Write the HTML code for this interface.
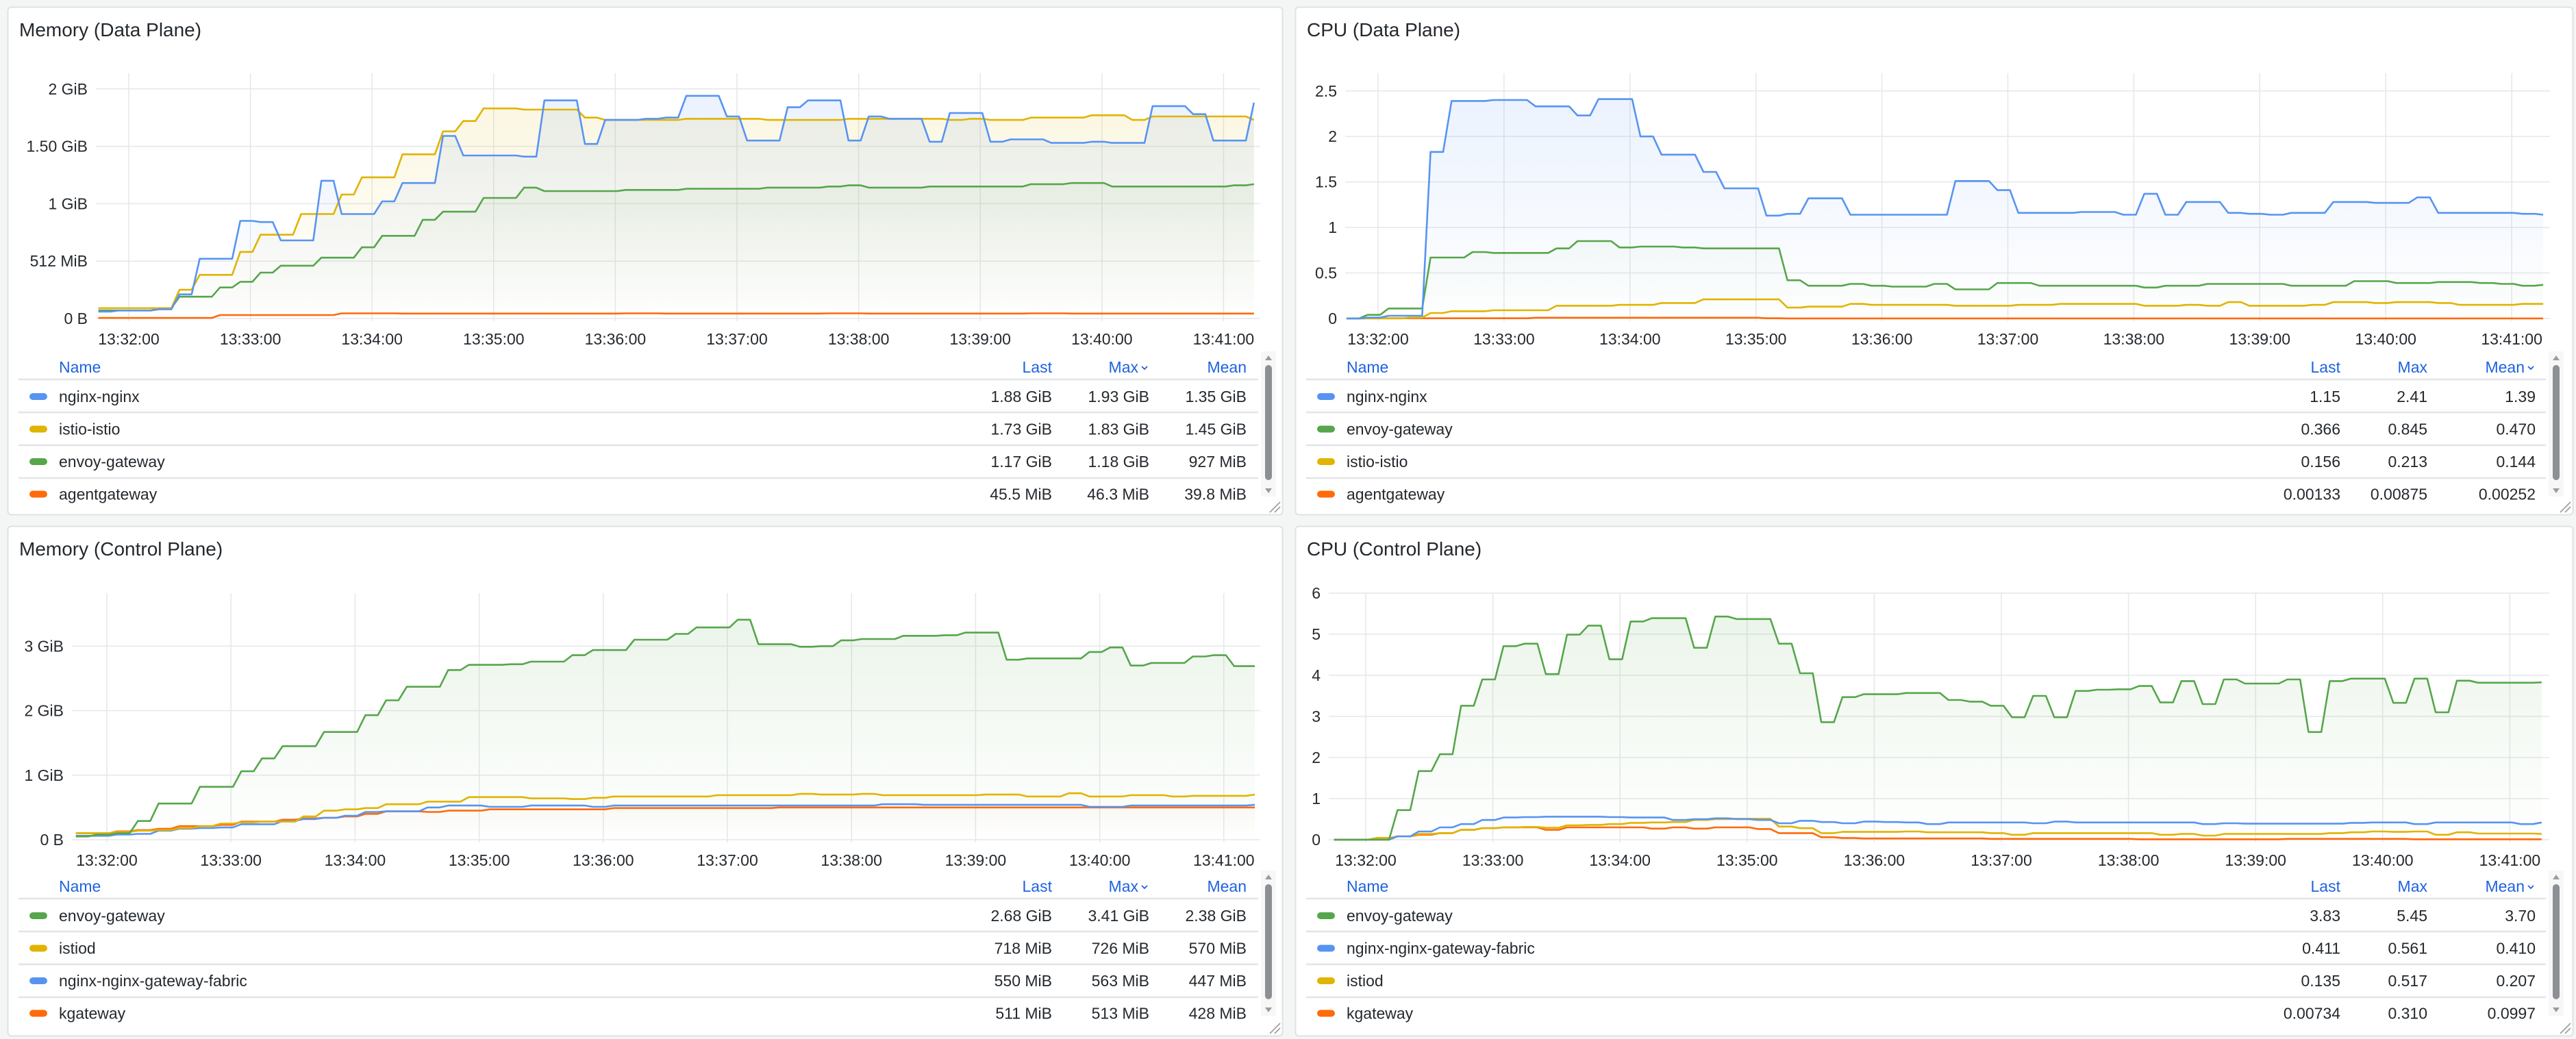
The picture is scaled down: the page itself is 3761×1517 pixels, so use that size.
<!DOCTYPE html>
<html><head><meta charset="utf-8">
<style>
html,body{margin:0;padding:0;background:#f4f5f5;}
svg{display:block;font-family:"Liberation Sans",sans-serif;}
</style></head>
<body>
<svg id="dash" width="3761" height="1517" viewBox="0 0 3761 1517" xmlns="http://www.w3.org/2000/svg">
<rect x="0" y="0" width="3761" height="1517" fill="#f4f5f5"/>
</svg>
<script>
// ---- shared x domain: samples every 10s starting 13:31:45 ----
const sampleStart = "13:31:45";
const sampleStepSec = 10;
const xTickLabels = ["13:32:00","13:33:00","13:34:00","13:35:00","13:36:00","13:37:00","13:38:00","13:39:00","13:40:00","13:41:00"];

// ---- Memory (Data Plane), GiB ----
const memDpNginx = [0.06,0.07,0.07,0.08,0.21,0.52,0.52,0.85,0.84,0.68,0.68,1.2,0.91,0.91,1.02,1.18,1.18,1.59,1.42,1.42,1.42,1.41,1.90,1.90,1.52,1.73,1.73,1.74,1.75,1.94,1.94,1.76,1.55,1.55,1.84,1.90,1.90,1.55,1.76,1.74,1.74,1.54,1.79,1.79,1.54,1.56,1.56,1.53,1.53,1.54,1.53,1.53,1.85,1.85,1.78,1.55,1.55,1.88];
const memDpIstio = [0.09,0.09,0.09,0.09,0.25,0.38,0.38,0.58,0.73,0.73,0.91,0.91,1.08,1.23,1.23,1.43,1.43,1.63,1.72,1.83,1.83,1.82,1.82,1.82,1.75,1.73,1.73,1.73,1.73,1.74,1.74,1.74,1.74,1.73,1.73,1.73,1.73,1.74,1.74,1.74,1.74,1.74,1.73,1.74,1.73,1.73,1.75,1.75,1.75,1.77,1.77,1.73,1.76,1.76,1.76,1.76,1.76,1.73];
const memDpEnvoy = [0.07,0.07,0.07,0.09,0.19,0.19,0.27,0.32,0.40,0.46,0.46,0.53,0.53,0.62,0.72,0.72,0.86,0.93,0.93,1.05,1.05,1.14,1.11,1.11,1.11,1.11,1.12,1.12,1.12,1.13,1.13,1.13,1.13,1.14,1.14,1.14,1.15,1.16,1.14,1.14,1.14,1.15,1.15,1.15,1.15,1.15,1.17,1.17,1.18,1.18,1.15,1.15,1.15,1.15,1.15,1.15,1.16,1.17];
const memDpAgent = [0.005,0.005,0.005,0.005,0.005,0.005,0.03,0.03,0.03,0.03,0.03,0.03,0.045,0.045,0.045,0.043,0.043,0.043,0.043,0.043,0.043,0.043,0.043,0.043,0.043,0.043,0.045,0.045,0.043,0.043,0.043,0.043,0.043,0.043,0.043,0.043,0.045,0.045,0.043,0.043,0.043,0.043,0.043,0.043,0.043,0.043,0.045,0.045,0.043,0.043,0.043,0.043,0.043,0.043,0.043,0.043,0.043,0.043];

// ---- CPU (Data Plane), cores ----
const cpuDpNginx = [0,0.01,0.03,0.03,1.83,2.39,2.39,2.40,2.40,2.33,2.33,2.23,2.41,2.41,2.00,1.80,1.80,1.61,1.43,1.43,1.13,1.15,1.32,1.32,1.14,1.14,1.14,1.14,1.14,1.51,1.51,1.41,1.16,1.16,1.16,1.17,1.17,1.14,1.37,1.14,1.28,1.28,1.16,1.15,1.14,1.16,1.16,1.28,1.28,1.27,1.27,1.33,1.16,1.16,1.16,1.16,1.15,1.14];
const cpuDpEnvoy = [0,0.04,0.11,0.11,0.67,0.67,0.73,0.72,0.72,0.72,0.77,0.85,0.85,0.78,0.79,0.79,0.78,0.77,0.77,0.77,0.77,0.42,0.36,0.36,0.38,0.36,0.35,0.35,0.38,0.32,0.32,0.39,0.39,0.36,0.36,0.36,0.36,0.36,0.34,0.36,0.36,0.38,0.38,0.38,0.38,0.36,0.36,0.36,0.41,0.41,0.39,0.39,0.40,0.40,0.39,0.38,0.36,0.37];
const cpuDpIstio = [0,0,0,0.01,0.06,0.08,0.08,0.09,0.09,0.09,0.14,0.14,0.14,0.15,0.15,0.17,0.17,0.21,0.21,0.21,0.21,0.12,0.13,0.13,0.16,0.15,0.15,0.15,0.15,0.14,0.14,0.14,0.15,0.15,0.16,0.16,0.16,0.16,0.14,0.14,0.15,0.14,0.18,0.14,0.14,0.14,0.15,0.18,0.18,0.17,0.18,0.18,0.17,0.15,0.15,0.15,0.16,0.16];
const cpuDpAgent = [0,0.002,0.002,0.002,0.002,0.002,0.002,0.002,0.002,0.008,0.008,0.008,0.008,0.008,0.008,0.008,0.008,0.008,0.008,0.008,0.002,0.001,0.001,0.001,0.001,0.001,0.001,0.001,0.001,0.001,0.001,0.001,0.001,0.001,0.001,0.001,0.001,0.001,0.001,0.001,0.001,0.001,0.001,0.001,0.001,0.001,0.001,0.001,0.001,0.001,0.001,0.001,0.001,0.001,0.001,0.001,0.001,0.001];

// ---- Memory (Control Plane), GiB ----
const memCpEnvoy = [0.05,0.08,0.10,0.29,0.56,0.56,0.82,0.82,1.06,1.26,1.45,1.45,1.67,1.67,1.93,2.16,2.37,2.37,2.63,2.71,2.71,2.72,2.76,2.76,2.86,2.94,2.94,3.10,3.10,3.19,3.29,3.29,3.41,3.03,3.03,2.99,3.00,3.09,3.11,3.11,3.16,3.16,3.17,3.21,3.21,2.79,2.81,2.81,2.81,2.91,2.98,2.70,2.74,2.74,2.84,2.86,2.69,2.69];
const memCpIstiod = [0.10,0.10,0.12,0.14,0.15,0.18,0.21,0.25,0.27,0.28,0.28,0.36,0.45,0.47,0.49,0.55,0.55,0.59,0.59,0.66,0.66,0.66,0.64,0.64,0.63,0.65,0.67,0.67,0.67,0.67,0.67,0.69,0.69,0.69,0.69,0.71,0.70,0.70,0.71,0.69,0.69,0.69,0.69,0.69,0.70,0.70,0.67,0.67,0.72,0.67,0.67,0.69,0.69,0.67,0.68,0.68,0.68,0.70];
const memCpNginx = [0.06,0.06,0.08,0.09,0.14,0.17,0.18,0.19,0.24,0.24,0.29,0.32,0.34,0.37,0.43,0.44,0.44,0.50,0.53,0.53,0.51,0.51,0.53,0.53,0.53,0.51,0.53,0.53,0.53,0.53,0.53,0.53,0.53,0.53,0.53,0.53,0.53,0.53,0.53,0.55,0.55,0.54,0.54,0.54,0.54,0.54,0.54,0.54,0.54,0.51,0.51,0.53,0.53,0.53,0.53,0.53,0.53,0.54];
const memCpKgw = [0.10,0.10,0.13,0.15,0.17,0.21,0.21,0.23,0.28,0.28,0.31,0.33,0.34,0.36,0.40,0.44,0.44,0.43,0.45,0.45,0.47,0.47,0.47,0.47,0.47,0.47,0.49,0.49,0.49,0.49,0.49,0.49,0.49,0.49,0.50,0.50,0.50,0.50,0.50,0.50,0.50,0.50,0.50,0.50,0.50,0.50,0.50,0.50,0.50,0.50,0.50,0.50,0.50,0.50,0.50,0.50,0.50,0.50];

// ---- CPU (Control Plane), cores ----
const cpuCpEnvoy = [0,0,0,0.72,1.67,2.08,3.26,3.90,4.71,4.77,4.03,4.99,5.21,4.39,5.31,5.39,5.39,4.67,5.43,5.37,5.37,4.77,4.05,2.86,3.47,3.54,3.54,3.57,3.57,3.40,3.36,3.26,2.98,3.50,2.98,3.62,3.65,3.66,3.74,3.34,3.86,3.30,3.90,3.80,3.80,3.90,2.62,3.86,3.92,3.92,3.33,3.92,3.10,3.87,3.82,3.82,3.82,3.83];
const cpuCpNginx = [0,0,0,0.08,0.2,0.3,0.38,0.48,0.54,0.55,0.56,0.56,0.56,0.55,0.54,0.54,0.48,0.50,0.52,0.50,0.48,0.40,0.46,0.43,0.40,0.44,0.43,0.42,0.38,0.42,0.42,0.42,0.42,0.40,0.44,0.42,0.42,0.42,0.42,0.42,0.42,0.38,0.40,0.39,0.39,0.39,0.39,0.39,0.41,0.42,0.42,0.38,0.42,0.42,0.42,0.42,0.38,0.42];
const cpuCpIstiod = [0,0,0.04,0.08,0.14,0.16,0.24,0.28,0.30,0.31,0.29,0.35,0.36,0.38,0.41,0.42,0.43,0.48,0.50,0.51,0.51,0.32,0.28,0.16,0.19,0.19,0.19,0.20,0.18,0.18,0.18,0.16,0.12,0.16,0.16,0.16,0.16,0.16,0.16,0.12,0.14,0.10,0.14,0.14,0.14,0.14,0.14,0.16,0.18,0.20,0.19,0.20,0.12,0.18,0.15,0.15,0.15,0.14];
const cpuCpKgw = [0,0,0.04,0.08,0.12,0.16,0.24,0.28,0.30,0.30,0.24,0.30,0.30,0.30,0.30,0.27,0.30,0.27,0.30,0.30,0.26,0.16,0.16,0.06,0.04,0.03,0.03,0.03,0.03,0.03,0.03,0.02,0.02,0.02,0.02,0.02,0.02,0.02,0.01,0.01,0.01,0.01,0.01,0.01,0.01,0.02,0.02,0.02,0.02,0.02,0.02,0.01,0.01,0.01,0.01,0.01,0.01,0.01];

// ---- y tick values / labels ----
const memDpYTicks = [0,0.5,1,1.5,2];
const memDpYLabels = ["0 B","512 MiB","1 GiB","1.50 GiB","2 GiB"];
const cpuDpYTicks = [0,0.5,1,1.5,2,2.5];
const cpuDpYLabels = ["0","0.5","1","1.5","2","2.5"];
const memCpYTicks = [0,1,2,3];
const memCpYLabels = ["0 B","1 GiB","2 GiB","3 GiB"];
const cpuCpYTicks = [0,1,2,3,4,5,6];
const cpuCpYLabels = ["0","1","2","3","4","5","6"];

// ---- legend names & stats ----
const memDpNames = ["nginx-nginx","istio-istio","envoy-gateway","agentgateway"];
const memDpLast = ["1.88 GiB","1.73 GiB","1.17 GiB","45.5 MiB"];
const memDpMax = ["1.93 GiB","1.83 GiB","1.18 GiB","46.3 MiB"];
const memDpMean = ["1.35 GiB","1.45 GiB","927 MiB","39.8 MiB"];
const cpuDpNames = ["nginx-nginx","envoy-gateway","istio-istio","agentgateway"];
const cpuDpLast = ["1.15","0.366","0.156","0.00133"];
const cpuDpMax = ["2.41","0.845","0.213","0.00875"];
const cpuDpMean = ["1.39","0.470","0.144","0.00252"];
const memCpNames = ["envoy-gateway","istiod","nginx-nginx-gateway-fabric","kgateway"];
const memCpLast = ["2.68 GiB","718 MiB","550 MiB","511 MiB"];
const memCpMax = ["3.41 GiB","726 MiB","563 MiB","513 MiB"];
const memCpMean = ["2.38 GiB","570 MiB","447 MiB","428 MiB"];
const cpuCpNames = ["envoy-gateway","nginx-nginx-gateway-fabric","istiod","kgateway"];
const cpuCpLast = ["3.83","0.411","0.135","0.00734"];
const cpuCpMax = ["5.45","0.561","0.517","0.310"];
const cpuCpMean = ["3.70","0.410","0.207","0.0997"];

const C = {blue:"#5794f2", yellow:"#e0b400", green:"#56a64b", orange:"#ff6a0a"};
const NS = "http://www.w3.org/2000/svg";
const svg = document.getElementById('dash');

function mk(tag, attrs, parent, text){
  const e = document.createElementNS(NS, tag);
  for (const k in attrs) e.setAttribute(k, attrs[k]);
  if (text !== undefined) e.textContent = text;
  (parent || svg).appendChild(e);
  return e;
}
function toSec(s){const p=s.split(':').map(Number);return p[0]*3600+p[1]*60+p[2];}

const panels = [
 {key:'memory-data-plane', title:'Memory (Data Plane)', x:11,y:10,w:1861,h:741,
  plot:{left:140,right:1840,top:107,zero:465,unit:167.6,x1332:188,ppm:177.6},
  yTicks:memDpYTicks, yLabels:memDpYLabels,
  series:[[memDpAgent,C.orange],[memDpEnvoy,C.green],[memDpIstio,C.yellow],[memDpNginx,C.blue]],
  names:memDpNames, colors:[C.blue,C.yellow,C.green,C.orange], last:memDpLast, max:memDpMax, mean:memDpMean, sortCol:'max',
  cols:[1525,1667,1809]},
 {key:'cpu-data-plane', title:'CPU (Data Plane)', x:1891,y:10,w:1865,h:741,
  plot:{left:1964,right:3723,top:107,zero:465,unit:132.9,x1332:2012,ppm:183.9},
  yTicks:cpuDpYTicks, yLabels:cpuDpYLabels,
  series:[[cpuDpAgent,C.orange],[cpuDpIstio,C.yellow],[cpuDpEnvoy,C.green],[cpuDpNginx,C.blue]],
  names:cpuDpNames, colors:[C.blue,C.green,C.yellow,C.orange], last:cpuDpLast, max:cpuDpMax, mean:cpuDpMean, sortCol:'mean',
  cols:[1526,1653,1811]},
 {key:'memory-control-plane', title:'Memory (Control Plane)', x:11,y:768,w:1861,h:744,
  plot:{left:105,right:1840,top:866,zero:1226,unit:94.2,x1332:156,ppm:181.2},
  yTicks:memCpYTicks, yLabels:memCpYLabels,
  series:[[memCpKgw,C.orange],[memCpNginx,C.blue],[memCpIstiod,C.yellow],[memCpEnvoy,C.green]],
  names:memCpNames, colors:[C.green,C.yellow,C.blue,C.orange], last:memCpLast, max:memCpMax, mean:memCpMean, sortCol:'max',
  cols:[1525,1667,1809]},
 {key:'cpu-control-plane', title:'CPU (Control Plane)', x:1891,y:768,w:1865,h:744,
  plot:{left:1940,right:3722,top:866,zero:1226,unit:60,x1332:1994,ppm:185.6},
  yTicks:cpuCpYTicks, yLabels:cpuCpYLabels,
  series:[[cpuCpKgw,C.orange],[cpuCpIstiod,C.yellow],[cpuCpNginx,C.blue],[cpuCpEnvoy,C.green]],
  names:cpuCpNames, colors:[C.green,C.blue,C.yellow,C.orange], last:cpuCpLast, max:cpuCpMax, mean:cpuCpMean, sortCol:'mean',
  cols:[1526,1653,1811]}
];

const defs = mk('defs', {});
const base1332 = toSec("13:32:00");
const start = toSec(sampleStart);
const holdSec = 6;

panels.forEach((p, pi) => {
  const g = mk('g', {});
  
  
  const bg = mk('rect', {x:p.x+0.5,y:p.y+0.5,width:p.w,height:p.h,rx:5,fill:'#ffffff',stroke:'#dfe1e4','stroke-width':2}, g);
  
  
  const title = mk('text', {x:p.x+17,y:p.y+43,'font-size':28,fill:'#24292e'}, g, p.title);
  
  

  const P = p.plot;
  const xs = sec => P.x1332 + (sec - base1332) / 60 * P.ppm;
  const ys = v => P.zero - v * P.unit;

  const grid = mk('g', {}, g);
  
  
  p.yTicks.forEach((t, i) => {
    const y = ys(t);
    mk('line', {x1:P.left,x2:P.right,y1:y,y2:y,stroke:'#e6e7e9','stroke-width':1.5}, grid);
    const lab = mk('text', {x:P.left-12,y:y+8,'font-size':23,fill:'#24292e','text-anchor':'end'}, g, p.yLabels[i]);
    
    
  });
  xTickLabels.forEach(lbl => {
    const x = xs(toSec(lbl));
    mk('line', {x1:x,x2:x,y1:P.top,y2:P.zero+4,stroke:'#e6e7e9','stroke-width':1.5}, grid);
    const lab = mk('text', {x:x,y:P.zero+38,'font-size':23,fill:'#24292e','text-anchor':'middle'}, g, lbl);
    
    
  });

  const fills = mk('g', {}, g);
  const lines = mk('g', {}, g);
  p.series.forEach(([vals, col], si) => {
    const gid = 'grad' + pi + '_' + si;
    const lg = mk('linearGradient', {id:gid,x1:0,y1:P.top,x2:0,y2:P.zero,gradientUnits:'userSpaceOnUse'}, defs);
    mk('stop', {offset:'0','stop-color':col,'stop-opacity':0.13}, lg);
    mk('stop', {offset:'1','stop-color':col,'stop-opacity':0.0}, lg);
    const pts = [];
    vals.forEach((v, i) => {
      const t = start + i * sampleStepSec;
      pts.push([xs(t), ys(v)]);
      if (i < vals.length - 1) pts.push([xs(t + holdSec), ys(v)]);
    });
    const d = 'M' + pts.map(q => q[0].toFixed(1) + ',' + q[1].toFixed(1)).join('L');
    const area = mk('path', {d: d + 'L' + pts[pts.length-1][0].toFixed(1) + ',' + P.zero + 'L' + pts[0][0].toFixed(1) + ',' + P.zero + 'Z', fill:'url(#'+gid+')'}, fills);
    
    
    const ln = mk('path', {d:d, fill:'none', stroke:col, 'stroke-width':2.6, 'stroke-linejoin':'round'}, lines);
    
    
  });

  const lgG = mk('g', {}, g);
  
  
  const hy = p.y + 534;
  const hName = mk('text', {x:p.x+75,y:hy,'font-size':23,fill:'#1f62e0'}, lgG, 'Name');
  
  
  const heads = ['Last','Max','Mean'];
  heads.forEach((h, i) => {
    const sorted = (p.sortCol === h.toLowerCase());
    const rx = p.x + p.cols[i] - (sorted ? 16 : 0);
    const ht = mk('text', {x:rx,y:hy,'font-size':23,fill:'#1f62e0','text-anchor':'end'}, lgG, h);
    
    
    if (sorted) {
      const cv = mk('path', {d:`M${rx+5},${hy-9} l4,4 l4,-4`, fill:'none', stroke:'#1f62e0','stroke-width':1.8}, lgG);
      
      
    }
  });
  const sepYs = [544, 592, 640, 688];
  sepYs.forEach(sy => mk('line', {x1:p.x+16,x2:p.x+1826,y1:p.y+sy,y2:p.y+sy,stroke:'#e2e4e7','stroke-width':2.5}, lgG));
  p.names.forEach((n, i) => {
    const cy = p.y + 569 + i * 47.5;
    const row = mk('g', {}, lgG);
    
    
    mk('rect', {x:p.x+32,y:cy-5,width:26,height:10,rx:5,fill:p.colors[i]}, row);
    mk('text', {x:p.x+75,y:cy+8,'font-size':23,fill:'#24292e'}, row, n);
    [p.last[i], p.max[i], p.mean[i]].forEach((v, j) => {
      mk('text', {x:p.x+p.cols[j],y:cy+8,'font-size':23,fill:'#24292e','text-anchor':'end'}, row, v);
    });
  });
  const sb = mk('g', {}, g);
  
  
  mk('rect', {x:p.x+1830,y:p.y+503,width:22,height:212,fill:'#f7f7f7'}, sb);
  mk('rect', {x:p.x+1836,y:p.y+523,width:10,height:168,rx:5,fill:'#8c8f93'}, sb);
  mk('path', {d:`M${p.x+1836},${p.y+516} l5,-7 l5,7 z`, fill:'#9a9c9f'}, sb);
  mk('path', {d:`M${p.x+1836},${p.y+703} l5,7 l5,-7 z`, fill:'#9a9c9f'}, sb);
  const rh = mk('g', {stroke:'#9a9c9f','stroke-width':1.6}, g);
  
  
  mk('line', {x1:p.x+p.w-18,y1:p.y+p.h-3,x2:p.x+p.w-3,y2:p.y+p.h-18}, rh);
  mk('line', {x1:p.x+p.w-11,y1:p.y+p.h-3,x2:p.x+p.w-3,y2:p.y+p.h-11}, rh);
});
</script>
</body></html>
